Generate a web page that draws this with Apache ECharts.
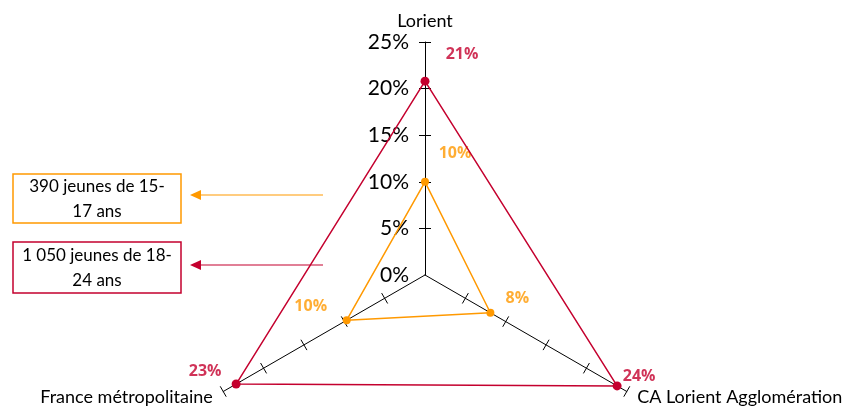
<html>
    <head>
        <meta charset="utf-8">
        <script src="https://cdn.jsdelivr.net/npm/echarts@6/dist/echarts.min.js"></script>
    </head>
    <body>
        <style>
            html, body, #main {
                width: 100%;
                height: 100%;
                margin: 0;
                background: #fff;
            }
        </style>
        <div id='main'></div>
        <script>
            // indicators, in radar order (counter-clockwise from top)
            var indicators = ['Lorient', 'France métropolitaine', 'CA Lorient Agglomération'];
            // same places, as angles clockwise from top for the polar label layer
            var angles = [0, 240, 120];
            var seriesNames = ['390 jeunes de 15-\n17 ans', '1 050 jeunes de 18-\n24 ans'];
            var jeunes1517 = [10, 9.7, 8.1];
            var jeunes1824 = [20.8, 23.4, 23.8];
            var tickLabels = [0, 5, 10, 15, 20, 25];

            var ORANGE = '#FF9900', RED = '#C4002E';
            var FONT = 'Lato, "Open Sans", sans-serif';
            var BOLD = '"Open Sans", Lato, sans-serif';
            var CENTER = [425, 275], R = 233;

            // label offsets from each point (px), per series, per indicator
            var offs1517 = [[30, -28], [-36, -14], [27, -14]];
            var offs1824 = [[37, -27], [-31, -13], [22, -9]];

            function labelPoints(vals, offs) {
                return vals.map(function (v, i) {
                    return {
                        value: [v, angles[i]],
                        label: { offset: offs[i] }
                    };
                });
            }

            var chart = echarts.init(document.getElementById('main'));
            var indic = indicators.map(function (n) { return { name: n, min: 0, max: 25 }; });
            var indicBlank = indicators.map(function () { return { name: '', min: 0, max: 25 }; });
            var tickVals = tickLabels.slice(1);

            var option = {
                animation: false,
                textStyle: { fontFamily: FONT },
                radar: [{
                    center: CENTER,
                    radius: R,
                    indicator: indic,
                    splitNumber: 5,
                    shape: 'polygon',
                    axisName: { color: '#000', fontSize: 18, fontFamily: FONT },
                    nameGap: 12,
                    axisLine: { lineStyle: { color: '#000', width: 1 } },
                    axisTick: { show: true, length: 6, customValues: tickVals, lineStyle: { color: '#000' } },
                    splitLine: { show: false },
                    splitArea: { show: false },
                    axisLabel: { show: false }
                }, {
                    // second set of ticks, pointing the other way, so they cross the axis
                    center: CENTER,
                    radius: R,
                    indicator: indicBlank,
                    splitNumber: 5,
                    shape: 'polygon',
                    axisName: { show: false },
                    axisLine: { show: false },
                    axisTick: { show: true, length: -6, customValues: tickVals, lineStyle: { color: '#000' } },
                    splitLine: { show: false },
                    splitArea: { show: false },
                    axisLabel: { show: false }
                }],
                polar: { center: CENTER, radius: R },
                angleAxis: { type: 'value', min: 0, max: 360, startAngle: 90, clockwise: true, show: false },
                radiusAxis: {
                    type: 'value', min: 0, max: 25, interval: 5,
                    axisLine: { show: false },
                    axisTick: { show: false },
                    splitLine: { show: false },
                    axisLabel: {
                        color: '#000', fontSize: 21, fontFamily: FONT, margin: 16,
                        formatter: function (v) { return tickLabels.indexOf(v) >= 0 ? v + '%' : ''; }
                    }
                },
                series: [{
                    type: 'radar',
                    radarIndex: 0,
                    symbol: 'circle',
                    z: 3,
                    data: [{
                        name: seriesNames[0],
                        value: jeunes1517,
                        symbolSize: 8,
                        itemStyle: { color: ORANGE },
                        lineStyle: { color: ORANGE, width: 1.5 }
                    }, {
                        name: seriesNames[1],
                        value: jeunes1824,
                        symbolSize: 9,
                        itemStyle: { color: RED },
                        lineStyle: { color: RED, width: 1.5 }
                    }]
                }, {
                    type: 'scatter',
                    coordinateSystem: 'polar',
                    symbolSize: 0,
                    silent: true,
                    label: {
                        show: true, position: 'inside', color: ORANGE, fontWeight: 'bold',
                        fontSize: 16, fontFamily: BOLD,
                        formatter: function (p) { return Math.round(p.value[0]) + '%'; }
                    },
                    data: labelPoints(jeunes1517, offs1517)
                }, {
                    type: 'scatter',
                    coordinateSystem: 'polar',
                    symbolSize: 0,
                    silent: true,
                    label: {
                        show: true, position: 'inside', color: RED, fontWeight: 'bold',
                        fontSize: 16, fontFamily: BOLD,
                        formatter: function (p) { return Math.round(p.value[0]) + '%'; }
                    },
                    data: labelPoints(jeunes1824, offs1824)
                }],
                graphic: [
                    { type: 'rect', shape: { x: 13, y: 174, width: 168, height: 49 },
                      style: { fill: '#fff', stroke: ORANGE, lineWidth: 1.5 } },
                    { type: 'text', x: 97, y: 199,
                      style: { text: seriesNames[0], fill: '#000', font: '17px ' + FONT,
                               align: 'center', verticalAlign: 'middle', lineHeight: 25 } },
                    { type: 'line', shape: { x1: 323, y1: 195, x2: 198, y2: 195 },
                      style: { stroke: ORANGE, lineWidth: 1.2 } },
                    { type: 'polygon', shape: { points: [[190, 195], [201, 190], [201, 200]] },
                      style: { fill: ORANGE } },
                    { type: 'rect', shape: { x: 13, y: 242, width: 168, height: 51 },
                      style: { fill: '#fff', stroke: RED, lineWidth: 1.5 } },
                    { type: 'text', x: 97, y: 268,
                      style: { text: seriesNames[1], fill: '#000', font: '17px ' + FONT,
                               align: 'center', verticalAlign: 'middle', lineHeight: 25 } },
                    { type: 'line', shape: { x1: 323, y1: 265, x2: 198, y2: 265 },
                      style: { stroke: RED, lineWidth: 1.2 } },
                    { type: 'polygon', shape: { points: [[190, 265], [201, 260], [201, 270]] },
                      style: { fill: RED } }
                ]
            };
            chart.setOption(option);
            window.onresize = chart.resize;
        </script>
    </body>
</html>
